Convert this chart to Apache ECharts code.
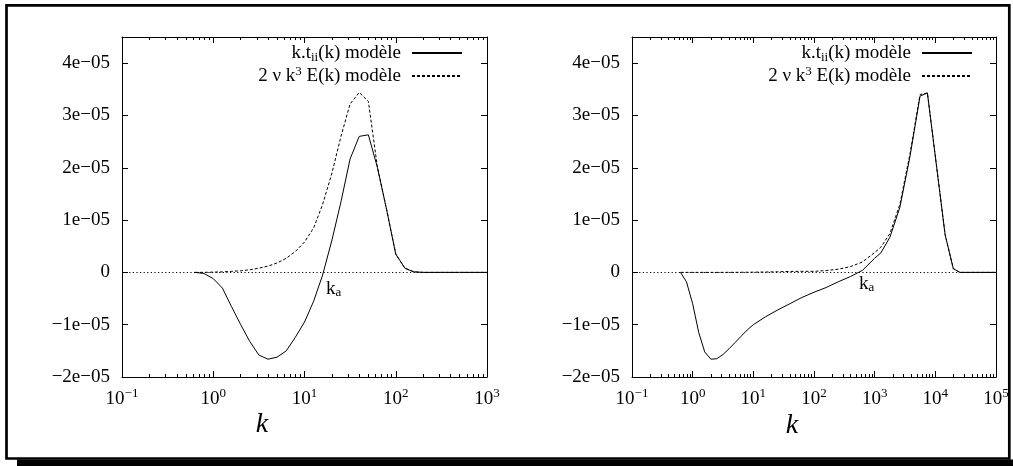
<!DOCTYPE html>
<html><head><meta charset="utf-8">
<script src="https://cdn.jsdelivr.net/npm/echarts@6/dist/echarts.min.js"></script>
<style>html,body{margin:0;padding:0;background:#fff}#c{width:1013px;height:466px}</style>
</head><body><div id="c"></div>
<script>
// ---- data ----
const kLeft   = [0.63, 0.79, 1.0, 1.26, 1.58, 2.0, 2.51, 3.16, 3.98, 5.01, 6.31, 7.94, 10, 12.6, 15.8, 20, 25.1, 31.6, 39.8, 50.1, 63.1, 79.4, 100, 126, 158, 200, 316, 501, 1000];
const tiiLeft = [0, -0.02e-5, -0.12e-5, -0.3e-5, -0.65e-5, -1.0e-5, -1.32e-5, -1.58e-5, -1.66e-5, -1.62e-5, -1.5e-5, -1.24e-5, -0.95e-5, -0.55e-5, -0.05e-5, 0.62e-5, 1.35e-5, 2.17e-5, 2.6e-5, 2.63e-5, 2.0e-5, 1.2e-5, 0.35e-5, 0.08e-5, 0.01e-5, 0, 0, 0, 0];
const eLeft   = [0, 0, 0.005e-5, 0.01e-5, 0.02e-5, 0.03e-5, 0.05e-5, 0.08e-5, 0.12e-5, 0.18e-5, 0.27e-5, 0.4e-5, 0.58e-5, 0.85e-5, 1.3e-5, 1.9e-5, 2.6e-5, 3.22e-5, 3.44e-5, 3.27e-5, 2.0e-5, 1.2e-5, 0.35e-5, 0.08e-5, 0.01e-5, 0, 0, 0, 0];

const kRight   = [0.63, 0.79, 1.0, 1.26, 1.58, 2.0, 2.51, 3.16, 3.98, 5.01, 6.31, 7.94, 10, 15.8, 25.1, 39.8, 63.1, 100, 158, 251, 398, 631, 1000, 1260, 1780, 2600, 3800, 5600, 7400, 14500, 19800, 25500, 40000, 100000];
const tiiRight = [0, -0.18e-5, -0.6e-5, -1.15e-5, -1.52e-5, -1.66e-5, -1.65e-5, -1.57e-5, -1.46e-5, -1.34e-5, -1.22e-5, -1.1e-5, -1.0e-5, -0.85e-5, -0.72e-5, -0.6e-5, -0.48e-5, -0.38e-5, -0.29e-5, -0.18e-5, -0.08e-5, 0.04e-5, 0.27e-5, 0.37e-5, 0.67e-5, 1.24e-5, 2.2e-5, 3.37e-5, 3.43e-5, 0.72e-5, 0.07e-5, 0, 0, 0];
const eRight   = [0, 0, 0, 0, 0, 0, 0, 0, 0.001e-5, 0.001e-5, 0.002e-5, 0.003e-5, 0.004e-5, 0.007e-5, 0.012e-5, 0.018e-5, 0.02e-5, 0.02e-5, 0.035e-5, 0.06e-5, 0.11e-5, 0.2e-5, 0.38e-5, 0.48e-5, 0.74e-5, 1.3e-5, 2.25e-5, 3.4e-5, 3.43e-5, 0.72e-5, 0.07e-5, 0, 0, 0];

const xTicksLeft  = [0.1, 1, 10, 100, 1000];
const xExpLeft    = ['−1', '0', '1', '2', '3'];
const xTicksRight = [0.1, 1, 10, 100, 1000, 10000, 100000];
const xExpRight   = ['−1', '0', '1', '2', '3', '4', '5'];
const yTicks      = [-2e-5, -1e-5, 0, 1e-5, 2e-5, 3e-5, 4e-5];
const yTickLabels = ['−2e−05', '−1e−05', '0', '1e−05', '2e−05', '3e−05', '4e−05'];
const seriesNames = ['k.tii(k) modèle', '2 ν k3 E(k) modèle'];
const legendRich  = ['{t|k.t}{sub|ii}{t|(k) modèle}', '{t|2 ν k}{sup|3}{t| E(k) modèle}'];

// ---- helpers ----
const FONT = '"Liberation Serif", "DejaVu Serif", serif';
const FS = 19, FSS = 13;
const pairs = (ks, vs) => ks.map((k, i) => [k, vs[i]]);
function minorTicks(lo, hi) {
  const out = [];
  for (let d = lo; d < hi; d *= 10) for (let m = 2; m <= 9; m++) out.push(+(d * m).toPrecision(6));
  return out;
}
function xAxes(grid, ticks, exps) {
  const lo = ticks[0], hi = ticks[ticks.length - 1];
  const minors = minorTicks(lo, hi);
  const base = {type: 'log', logBase: 10, gridIndex: grid, min: lo, max: hi,
    splitLine: {show: false}, minorTick: {show: false}, minorSplitLine: {show: false}};
  const fmt = v => {
    const i = ticks.findIndex(t => Math.abs(Math.log10(t) - Math.log10(v)) < 1e-6);
    return i < 0 ? '' : '{b|10}{s|' + exps[i] + '}';
  };
  const line = {show: true, onZero: false, lineStyle: {color: '#000', width: 1}};
  return [
    Object.assign({}, base, {position: 'bottom', axisLine: line,
      axisTick: {show: true, inside: true, length: 6, customValues: ticks, lineStyle: {color: '#000'}},
      axisLabel: {show: true, customValues: ticks, margin: 10, formatter: fmt, color: '#000',
        rich: {b: {fontFamily: FONT, fontSize: FS, lineHeight: 24, verticalAlign: 'middle', color: '#000'},
               s: {fontFamily: FONT, fontSize: FSS, lineHeight: 13, verticalAlign: 'top', color: '#000'}}}}),
    Object.assign({}, base, {position: 'bottom', axisLine: {show: false, onZero: false},
      axisTick: {show: true, inside: true, length: 3, customValues: minors, lineStyle: {color: '#000'}},
      axisLabel: {show: false}}),
    Object.assign({}, base, {position: 'top', axisLine: line,
      axisTick: {show: true, inside: true, length: 6, customValues: ticks, lineStyle: {color: '#000'}},
      axisLabel: {show: false}}),
    Object.assign({}, base, {position: 'top', axisLine: {show: false, onZero: false},
      axisTick: {show: true, inside: true, length: 3, customValues: minors, lineStyle: {color: '#000'}},
      axisLabel: {show: false}})
  ];
}
function yAxes(grid) {
  const base = {type: 'value', gridIndex: grid, min: -2e-5, max: 4.5e-5, splitLine: {show: false},
    axisLine: {show: true, onZero: false, lineStyle: {color: '#000', width: 1}},
    axisTick: {show: true, inside: true, length: 6, customValues: yTicks, lineStyle: {color: '#000'}}};
  return [
    Object.assign({}, base, {position: 'left', axisLabel: {show: true, customValues: yTicks, margin: 12,
      color: '#000', fontFamily: FONT, fontSize: FS,
      formatter: v => { const i = yTicks.findIndex(t => Math.abs(t - v) < 1e-9); return i < 0 ? '' : yTickLabels[i]; }}}),
    Object.assign({}, base, {position: 'right', axisLabel: {show: false}})
  ];
}
function lineSeries(name, data, xi, yi, dashed, zero) {
  const s = {name, type: 'line', data, xAxisIndex: xi, yAxisIndex: yi, symbol: 'none', showSymbol: false,
    smooth: false, animation: false, silent: true,
    lineStyle: {color: '#000', width: 1, type: dashed ? [3, 2] : 'solid'}, itemStyle: {color: '#000'}};
  if (zero) s.markLine = {silent: true, animation: false, symbol: ['none', 'none'], label: {show: false},
    lineStyle: {color: '#000', width: 1, type: [1.2, 2.4]}, data: [{yAxis: 0}]};
  return s;
}
function legend(right) {
  return {data: seriesNames, orient: 'vertical', right, top: 42, align: 'right', padding: 0,
    itemWidth: 50, itemHeight: 14, itemGap: 1, selectedMode: false, itemStyle: {opacity: 0},
    formatter: n => legendRich[seriesNames.indexOf(n)],
    textStyle: {fontFamily: FONT, fontSize: FS, color: '#000', lineHeight: 22, padding: [0, 6, 0, 0],
      rich: {t: {fontFamily: FONT, fontSize: FS, lineHeight: 22, verticalAlign: 'middle', color: '#000'},
             sub: {fontFamily: FONT, fontSize: FSS, lineHeight: 13, verticalAlign: 'bottom', color: '#000'},
             sup: {fontFamily: FONT, fontSize: FSS, lineHeight: 13, verticalAlign: 'top', color: '#000'}}}};
}
function kaLabel(x, y) {
  return {type: 'text', silent: true, x, y, style: {text: '{k|k}{a|a}', fill: '#000', align: 'left', verticalAlign: 'top',
    rich: {k: {fontFamily: FONT, fontSize: FS, lineHeight: 20, verticalAlign: 'middle', fill: '#000'},
           a: {fontFamily: FONT, fontSize: FSS, lineHeight: 13, verticalAlign: 'bottom', fill: '#000'}}}};
}
function kName(x, y) {
  return {type: 'text', silent: true, x, y, style: {text: 'k', fill: '#000', font: 'italic 28px ' + FONT,
    align: 'center', verticalAlign: 'middle'}};
}

const chart = echarts.init(document.getElementById('c'), null, {renderer: 'canvas'});
chart.setOption({
  animation: false,
  backgroundColor: '#fff',
  grid: [
    {left: 122, right: 526, top: 37, bottom: 89},
    {left: 632, right: 17, top: 37, bottom: 89}
  ],
  xAxis: xAxes(0, xTicksLeft, xExpLeft).concat(xAxes(1, xTicksRight, xExpRight)),
  yAxis: yAxes(0).concat(yAxes(1)),
  legend: [legend(550), legend(40)],
  series: [
    lineSeries(seriesNames[0], pairs(kLeft, tiiLeft), 0, 0, false, true),
    lineSeries(seriesNames[1], pairs(kLeft, eLeft), 0, 0, true, false),
    lineSeries(seriesNames[0], pairs(kRight, tiiRight), 4, 2, false, true),
    lineSeries(seriesNames[1], pairs(kRight, eRight), 4, 2, true, false)
  ],
  graphic: [
    {type: 'rect', silent: true, shape: {x: 6.5, y: 5.3, width: 1002.8, height: 453.2},
      style: {fill: 'none', stroke: '#000', lineWidth: 2.7}},
    {type: 'rect', silent: true, shape: {x: 17, y: 459.5, width: 996, height: 7}, style: {fill: '#000'}},
    kName(262, 425), kName(792, 426),
    kaLabel(326, 279), kaLabel(859, 274)
  ]
});
</script></body></html>
